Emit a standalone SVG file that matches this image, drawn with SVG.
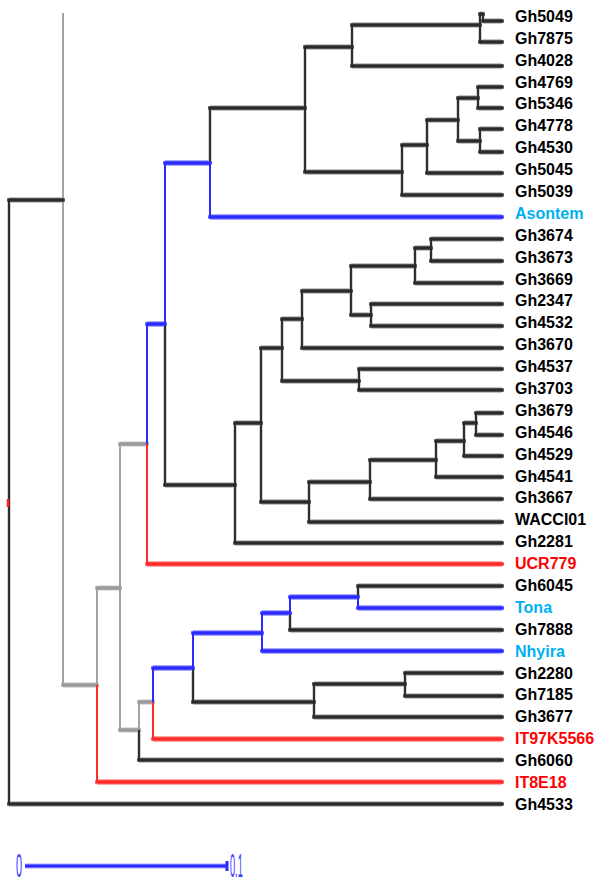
<svg xmlns="http://www.w3.org/2000/svg" xmlns:xlink="http://www.w3.org/1999/xlink" width="600" height="888" viewBox="0 0 600 888">
<style>
.lbl{font-family:"Liberation Sans",Arial,sans-serif;font-weight:bold;font-size:16px;fill:#000}
.cy{fill:#00b0f0}
.rd{fill:#ff0000}
.sc{font-family:"Liberation Sans",Arial,sans-serif;font-size:34px;fill:#3c3cff}
</style>
<defs>
<path id="hk" d="M483 21H502 M480 14H483 M480 42H502 M352 25H480 M352 66H502 M305 47H352 M478 87H502 M478 108H502 M458 98H478 M480 129H502 M480 152H502 M458 141H480 M427 120H458 M427 173H502 M402 145H427 M402 195H502 M305 172H402 M210 108H305 M431 239H502 M431 261H502 M415 248H431 M415 283H502 M351 266H415 M371 304H502 M371 326H502 M351 315H371 M302 291H351 M302 348H502 M282 319H302 M359 369H502 M359 390H502 M282 381H359 M261 348H282 M476 413H502 M476 435H502 M464 423H476 M464 456H502 M436 441H464 M436 477H502 M370 460H436 M370 499H502 M309 482H370 M309 522H502 M261 502H309 M235 423H261 M235 543H502 M165 485H235 M358 586H502 M290 630H502 M405 673H502 M405 696H502 M314 684H405 M314 717H502 M193 702H314 M139 760H502 M9 200H63 M9 804H502"/>
<path id="vk" d="M483 14V21 M480 14V42 M352 25V66 M478 87V108 M480 129V152 M458 98V141 M427 120V173 M402 145V195 M305 47V172 M210 108V163 M165 324V485 M431 239V261 M415 248V283 M371 304V326 M351 266V315 M302 291V348 M359 369V390 M282 319V381 M476 413V435 M464 423V456 M436 441V477 M370 460V499 M309 482V522 M261 348V502 M235 423V543 M358 586V597 M290 613V630 M405 673V696 M314 684V717 M193 668V702 M139 730V760 M9 200V804"/>
<path id="hb" d="M210 217H502 M165 163H210 M147 324H165 M358 608H502 M290 597H358 M262 613H290 M262 651H502 M193 633H262 M153 668H193"/>
<path id="vb" d="M210 163V217 M165 163V324 M147 324V444 M358 597V608 M290 597V613 M262 613V651 M193 633V668 M153 668V702"/>
<path id="hr" d="M147 564H502 M153 739H502 M97 782H502"/>
<path id="vr" d="M147 444V564 M153 702V739 M97 685V782"/>
<path id="hg" d="M120 444H147 M139 702H153 M120 730H139 M97 588H120 M63 685H97"/>
<path id="vg" d="M139 702V730 M120 444V730 M97 588V685 M63 13V685"/>
</defs>
<rect width="600" height="888" fill="#fff"/>
<g id="branches" fill="none">
<use xlink:href="#hg" stroke="#d6d6d6" stroke-width="5.5"/>
<use xlink:href="#hk" stroke="#c4c4c4" stroke-width="6"/>
<use xlink:href="#hb" stroke="#a8a8ff" stroke-width="6"/>
<use xlink:href="#hr" stroke="#ffa8a8" stroke-width="6"/>
<use xlink:href="#vk" stroke="#c8c8c8" stroke-width="3.5"/>
<use xlink:href="#vg" stroke="#a3a3a3" stroke-width="2"/>
<use xlink:href="#hg" stroke="#9a9a9a" stroke-width="3.5" stroke-linecap="square"/>
<use xlink:href="#vk" stroke="#2e2e2e" stroke-width="2"/>
<use xlink:href="#hk" stroke="#2a2a2a" stroke-width="3.5" stroke-linecap="square"/>
<use xlink:href="#vb" stroke="#2b2bff" stroke-width="2"/>
<use xlink:href="#hb" stroke="#2b2bff" stroke-width="3.5" stroke-linecap="square"/>
<use xlink:href="#vr" stroke="#ff2a2a" stroke-width="2"/>
<use xlink:href="#hr" stroke="#ff2a2a" stroke-width="3.5" stroke-linecap="square"/>
<path d="M8 499V507" stroke="#ff2020" stroke-width="2.5"/>
</g>
<g id="labels">
<g id="n-Gh5049"><text class="lbl" x="515" y="21.8">Gh5049</text></g>
<g id="n-Gh7875"><text class="lbl" x="515" y="43.7">Gh7875</text></g>
<g id="n-Gh4028"><text class="lbl" x="515" y="65.6">Gh4028</text></g>
<g id="n-Gh4769"><text class="lbl" x="515" y="87.5">Gh4769</text></g>
<g id="n-Gh5346"><text class="lbl" x="515" y="109.4">Gh5346</text></g>
<g id="n-Gh4778"><text class="lbl" x="515" y="131.3">Gh4778</text></g>
<g id="n-Gh4530"><text class="lbl" x="515" y="153.1">Gh4530</text></g>
<g id="n-Gh5045"><text class="lbl" x="515" y="175">Gh5045</text></g>
<g id="n-Gh5039"><text class="lbl" x="515" y="196.9">Gh5039</text></g>
<g id="n-Asontem"><text class="lbl cy" x="515" y="218.8">Asontem</text></g>
<g id="n-Gh3674"><text class="lbl" x="515" y="240.7">Gh3674</text></g>
<g id="n-Gh3673"><text class="lbl" x="515" y="262.6">Gh3673</text></g>
<g id="n-Gh3669"><text class="lbl" x="515" y="284.5">Gh3669</text></g>
<g id="n-Gh2347"><text class="lbl" x="515" y="306.4">Gh2347</text></g>
<g id="n-Gh4532"><text class="lbl" x="515" y="328.3">Gh4532</text></g>
<g id="n-Gh3670"><text class="lbl" x="515" y="350.2">Gh3670</text></g>
<g id="n-Gh4537"><text class="lbl" x="515" y="372">Gh4537</text></g>
<g id="n-Gh3703"><text class="lbl" x="515" y="393.9">Gh3703</text></g>
<g id="n-Gh3679"><text class="lbl" x="515" y="415.8">Gh3679</text></g>
<g id="n-Gh4546"><text class="lbl" x="515" y="437.7">Gh4546</text></g>
<g id="n-Gh4529"><text class="lbl" x="515" y="459.6">Gh4529</text></g>
<g id="n-Gh4541"><text class="lbl" x="515" y="481.5">Gh4541</text></g>
<g id="n-Gh3667"><text class="lbl" x="515" y="503.4">Gh3667</text></g>
<g id="n-WACCI01"><text class="lbl" x="515" y="525.3">WACCI01</text></g>
<g id="n-Gh2281"><text class="lbl" x="515" y="547.2">Gh2281</text></g>
<g id="n-UCR779"><text class="lbl rd" x="515" y="569.1">UCR779</text></g>
<g id="n-Gh6045"><text class="lbl" x="515" y="590.9">Gh6045</text></g>
<g id="n-Tona"><text class="lbl cy" x="515" y="612.8">Tona</text></g>
<g id="n-Gh7888"><text class="lbl" x="515" y="634.7">Gh7888</text></g>
<g id="n-Nhyira"><text class="lbl cy" x="515" y="656.6">Nhyira</text></g>
<g id="n-Gh2280"><text class="lbl" x="515" y="678.5">Gh2280</text></g>
<g id="n-Gh7185"><text class="lbl" x="515" y="700.4">Gh7185</text></g>
<g id="n-Gh3677"><text class="lbl" x="515" y="722.3">Gh3677</text></g>
<g id="n-IT97K5566"><text class="lbl rd" x="515" y="744.2">IT97K5566</text></g>
<g id="n-Gh6060"><text class="lbl" x="515" y="766.1">Gh6060</text></g>
<g id="n-IT8E18"><text class="lbl rd" x="515" y="788">IT8E18</text></g>
<g id="n-Gh4533"><text class="lbl" x="515" y="809.8">Gh4533</text></g>
</g>
<g id="scale">
<path d="M25 866H227" stroke="#a8a8ff" stroke-width="5" fill="none"/>
<path d="M25 866H227 M227 861V871" stroke="#2b2bff" stroke-width="3" fill="none"/>
<text class="sc" transform="translate(16 877) scale(0.32 1)">0</text>
<text class="sc" transform="translate(230 877) scale(0.27 1)">0.1</text>
</g>
</svg>
